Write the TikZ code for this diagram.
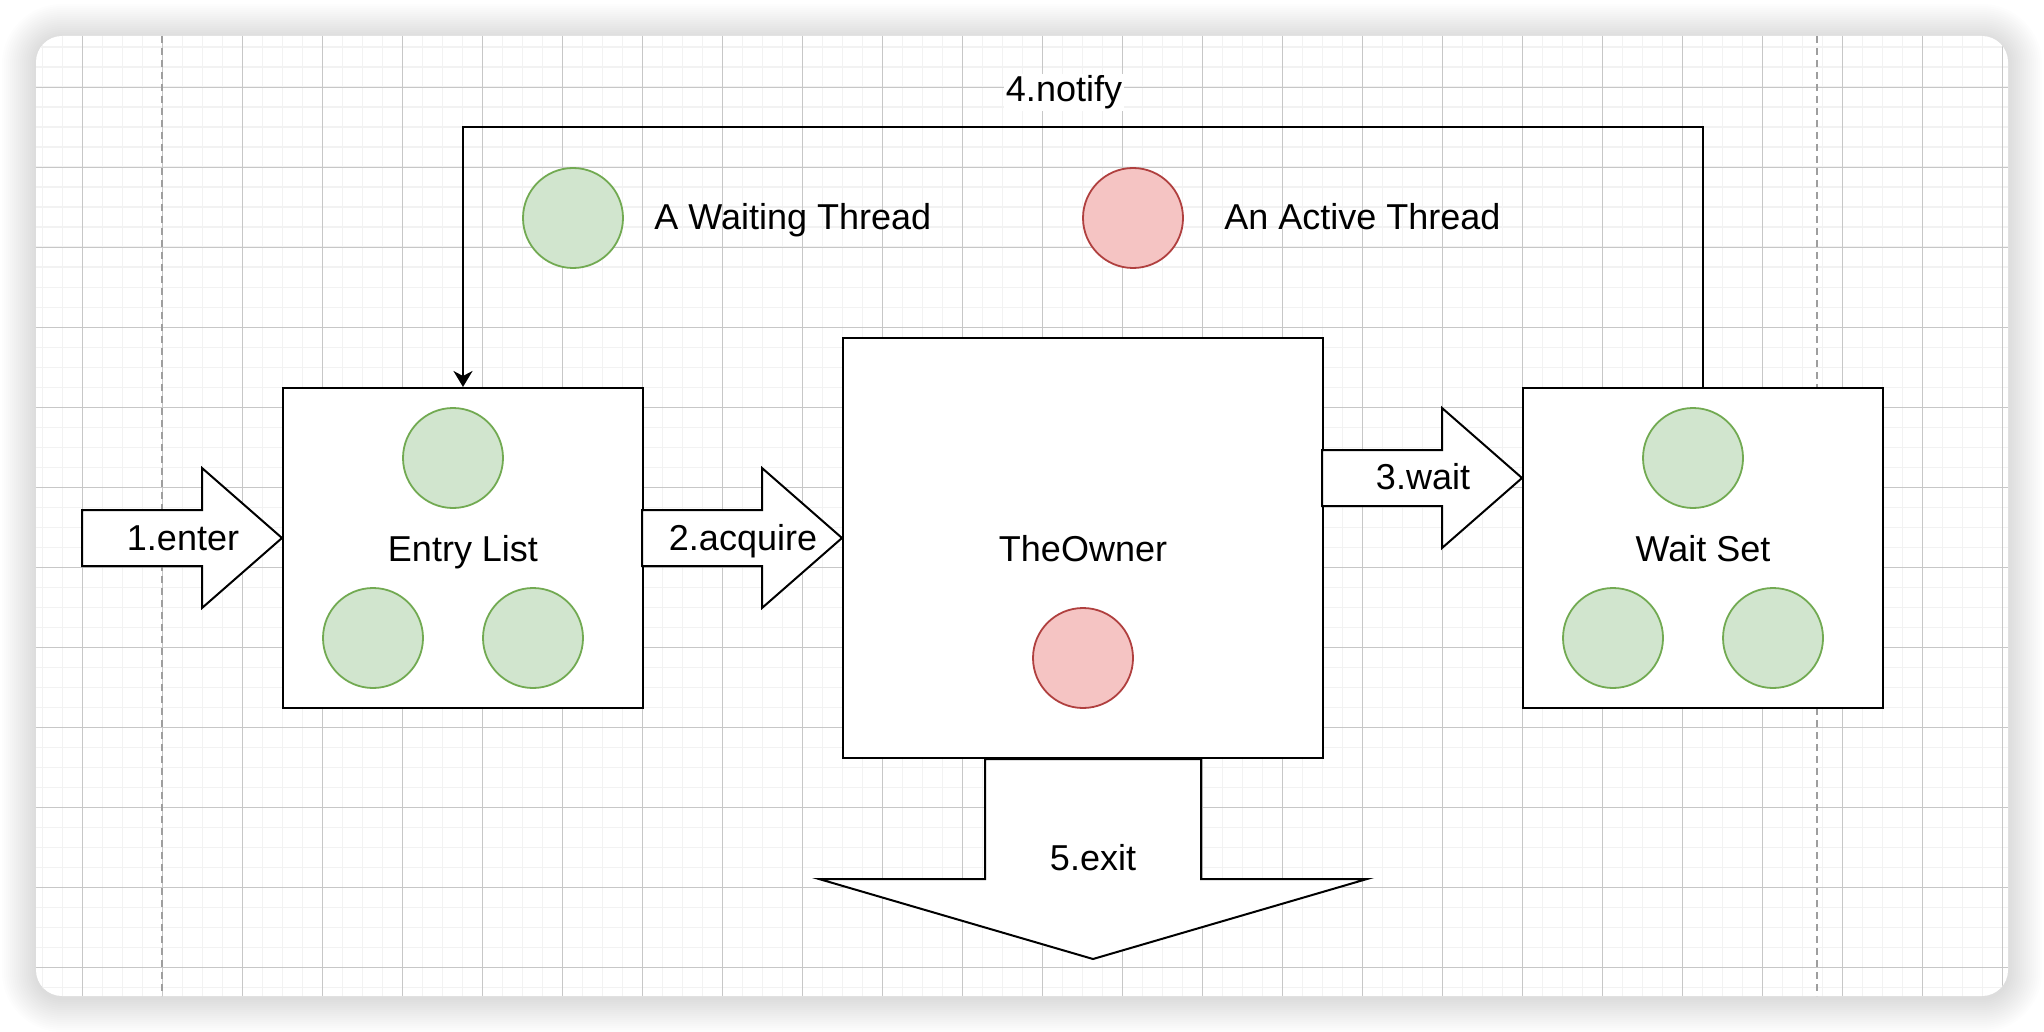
\documentclass[tikz,border=0pt]{standalone}
\usepackage{fontspec}
\setmainfont{Liberation Sans}
\usetikzlibrary{arrows.meta,calc}
\definecolor{wfill}{HTML}{D1E5CE}
\definecolor{wdraw}{HTML}{72AA52}
\definecolor{afill}{HTML}{F5C4C3}
\definecolor{adraw}{HTML}{B0403F}

\begin{document}
\begin{tikzpicture}[x=0.5pt, y=-0.5pt, every node/.style={font=\fontsize{18}{22}\selectfont}, >={Stealth[length=8pt, width=9.5pt, inset=2.5pt]}, box/.style={draw, line width=1pt, fill=white, inner sep=0pt, text depth=0pt}, thr/.style={circle, line width=0.9pt, minimum size=50pt, inner sep=0pt}, wthr/.style={thr, draw=wdraw, fill=wfill}, athr/.style={thr, draw=adraw, fill=afill}, blk/.style={draw, line width=1pt, fill=white, line join=miter}, lbl/.style={anchor=base, inner sep=0pt}, minor/.style={draw=black!5, line width=0.8pt}, major/.style={draw=black!22, line width=0.5pt}, pagebreak/.style={draw=black!38, line width=1pt, dash pattern=on 3.5pt off 2.5pt}]
	\useasboundingbox (0,0) rectangle (2044,1032);
	\fill[white] (0,0) rectangle (2044,1032);
	% sheet with shadow
	\foreach \s in {1,...,17} {
		\pgfmathsetmacro\rr{13+\s*1}
		\fill[black, opacity=0.0085, rounded corners=\rr pt] ({36-2*\s},{38-2*\s}) rectangle ({2008+2*\s},{998+2*\s});
	}
	\fill[white, rounded corners=13pt] (36,36) rectangle (2008,996);
	\begin{scope}
		\clip[rounded corners=13pt] (36,36) rectangle (2008,996);
		\foreach \i in {0,...,98} \draw[minor] ({42.3+20*\i},36) -- ++(0,960);
		\foreach \i in {0,...,47} \draw[minor] (36,{47.3+20*\i}) -- ++(1972,0);
		\foreach \i in {0,...,24} \draw[major] ({82.3+80*\i},36) -- ++(0,960);
		\foreach \i in {0,...,11} \draw[major] (36,{87.3+80*\i}) -- ++(1972,0);
		\draw[pagebreak] (162.3,36) -- ++(0,960);
		\draw[pagebreak] (1816.7,36) -- ++(0,960);
	\end{scope}

	% legend
	\node[wthr] (lgw) at (573,218) {};
	\node[lbl, anchor=base west] (lgwtxt) at (654,230) {A Waiting Thread};
	\node[athr] (lga) at (1133,218) {};
	\node[lbl, anchor=base west] (lgatxt) at (1224,230) {An Active Thread};

	% monitor parts
	\node[box, minimum width=180pt, minimum height=160pt] (entry) at (463,548) {Entry List};
	\node[box, minimum width=240pt, minimum height=210pt] (owner) at (1083,548) {TheOwner};
	\node[box, minimum width=180pt, minimum height=160pt] (waitset) at (1703,548) {Wait Set};
	\node[wthr] (e1) at (453,458) {};
	\node[wthr] (e2) at (373,638) {};
	\node[wthr] (e3) at (533,638) {};
	\node[athr] (o1) at (1083,658) {};
	\node[wthr] (w1) at (1693,458) {};
	\node[wthr] (w2) at (1613,638) {};
	\node[wthr] (w3) at (1773,638) {};

	% block arrows
	\draw[blk] ($(entry.west)+(0,-10)$) -- ++(-80,-70) -- ++(0,42) -- ++(-120,0) -- ++(0,56) -- ++(120,0) -- ++(0,42) -- cycle;
	\draw[blk] ($(owner.west)+(0,-10)$) -- ++(-80,-70) -- ++(0,42) -- ++(-120,0) -- ++(0,56) -- ++(120,0) -- ++(0,42) -- cycle;
	\draw[blk] ($(waitset.west)+(0,-70)$) -- ++(-80,-70) -- ++(0,42) -- ++(-120,0) -- ++(0,56) -- ++(120,0) -- ++(0,42) -- cycle;
	\draw[blk] ($(owner.south)+(-98,0)$) -- ++(0,120) -- ++(-166,0) -- ++(274,80) -- ++(274,-80) -- ++(-166,0) -- ++(0,-120) -- cycle;
	\node[lbl] (enterlbl) at (183,550) {1.enter};
	\node[lbl] (acquirelbl) at (743,550) {2.acquire};
	\node[lbl] (waitlbl) at (1423,489) {3.wait};
	\node[lbl] (exitlbl) at (1093,870) {5.exit};

	% notify
	\draw[->, line width=1pt] (waitset.north) -- ++(0,-260) -| (entry.north);
	\node[lbl, fill=white, inner sep=1pt] (notifylbl) at (1064,101.7) {4.notify};
\end{tikzpicture}
\end{document}
